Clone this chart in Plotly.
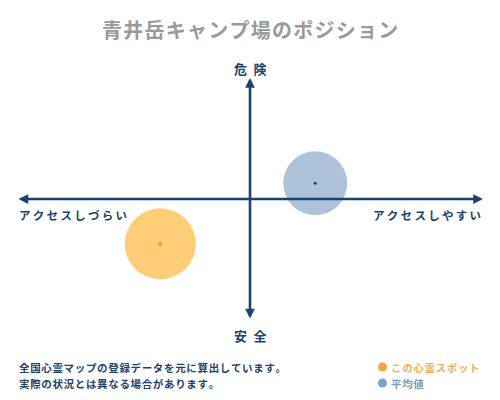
import plotly.graph_objects as go

# Data (position scores, -100..100 on each axis)
series_names = ["この心霊スポット", "平均値"]
access_scores = [-38.5, 28.0]      # x: アクセスしづらい(-) .. アクセスしやすい(+)
danger_scores = [-37.0, 13.0]      # y: 安全(-) .. 危険(+)
circle_sizes = [71, 64]
fill_colors = ["rgba(253,196,96,0.85)", "rgba(160,184,212,0.85)"]
dot_colors = ["#f0a030", "#1f3f66"]

axis_labels = {"top": "危険", "bottom": "安全", "left": "アクセスしづらい", "right": "アクセスしやすい"}
title_text = "青井岳キャンプ場のポジション"
notes = ["全国心霊マップの登録データを元に算出しています。", "実際の状況とは異なる場合があります。"]

FONT = "Noto Sans CJK JP"
NAVY = "#1d426e"


def spaced(s, sep="\u2009"):
    return sep.join(list(s))


fig = go.Figure()
for i in range(len(series_names)):
    fig.add_trace(go.Scatter(
        x=[access_scores[i]], y=[danger_scores[i]], mode="markers",
        marker=dict(size=circle_sizes[i], color=fill_colors[i], line=dict(width=0)),
        hoverinfo="skip", showlegend=False))
    fig.add_trace(go.Scatter(
        x=[access_scores[i]], y=[danger_scores[i]], mode="markers",
        marker=dict(size=4 if i == 0 else 3, color=dot_colors[i], symbol="diamond" if i == 0 else "circle"),
        hoverinfo="skip", showlegend=False))

annotations = []
# axes arrows (double-headed)
annotations.append(dict(x=100, y=0, ax=-100, ay=0, xref="x", yref="y", axref="x", ayref="y",
                        showarrow=True, arrowhead=2, startarrowhead=2, arrowside="end+start",
                        arrowsize=0.75, startarrowsize=0.75, arrowwidth=2.6, arrowcolor=NAVY, text=""))
annotations.append(dict(x=0, y=100, ax=0, ay=-100, xref="x", yref="y", axref="x", ayref="y",
                        showarrow=True, arrowhead=2, startarrowhead=2, arrowside="end+start",
                        arrowsize=0.75, startarrowsize=0.75, arrowwidth=2.6, arrowcolor=NAVY, text=""))

def txt(x, y, s, size, color, xanchor="center"):
    annotations.append(dict(x=x / 500, y=1 - y / 400, xref="paper", yref="paper", text=s,
                            showarrow=False, xanchor=xanchor, yanchor="middle",
                            font=dict(family=FONT, size=size, color=color, weight="bold")))

txt(250, 29, spaced(title_text, "\u200a"), 20, "#9a9a9a")
txt(250, 68, axis_labels["top"][0] + "\u2002" + axis_labels["top"][1], 13, NAVY)
txt(250, 335, axis_labels["bottom"][0] + "\u2002" + axis_labels["bottom"][1], 13, NAVY)
txt(17, 215, spaced(axis_labels["left"]), 11.5, NAVY, "left")
txt(483, 215, spaced(axis_labels["right"]), 11.5, NAVY, "right")
txt(17, 367, spaced(notes[0], "\u200a"), 10.5, NAVY, "left")
txt(17, 383, spaced(notes[1], "\u200a"), 10.5, NAVY, "left")
txt(389, 367, spaced(series_names[0], "\u200a"), 10.5, "#f2ad5c", "left")
txt(389, 383, spaced(series_names[1], "\u200a"), 10.5, "#7c9cc0", "left")

shapes = [
    dict(type="circle", xref="paper", yref="paper", x0=378 / 500, x1=387 / 500,
         y0=1 - 371.5 / 400, y1=1 - 362.5 / 400, fillcolor="#f5a742", line=dict(width=0)),
    dict(type="circle", xref="paper", yref="paper", x0=378 / 500, x1=387 / 500,
         y0=1 - 387.5 / 400, y1=1 - 378.5 / 400, fillcolor="#7ea3c8", line=dict(width=0)),
]

fig.update_layout(
    width=500, height=400, margin=dict(l=0, r=0, t=0, b=0),
    paper_bgcolor="white", plot_bgcolor="white",
    xaxis=dict(range=[-107.3, 107.3], visible=False, fixedrange=True),
    yaxis=dict(range=[-166.1, 164.5], visible=False, fixedrange=True),
    annotations=annotations, shapes=shapes,
)
fig.write_html("out.html", config={"displayModeBar": False},
               post_script="document.body.style.margin='0';document.body.style.overflow='hidden';")
